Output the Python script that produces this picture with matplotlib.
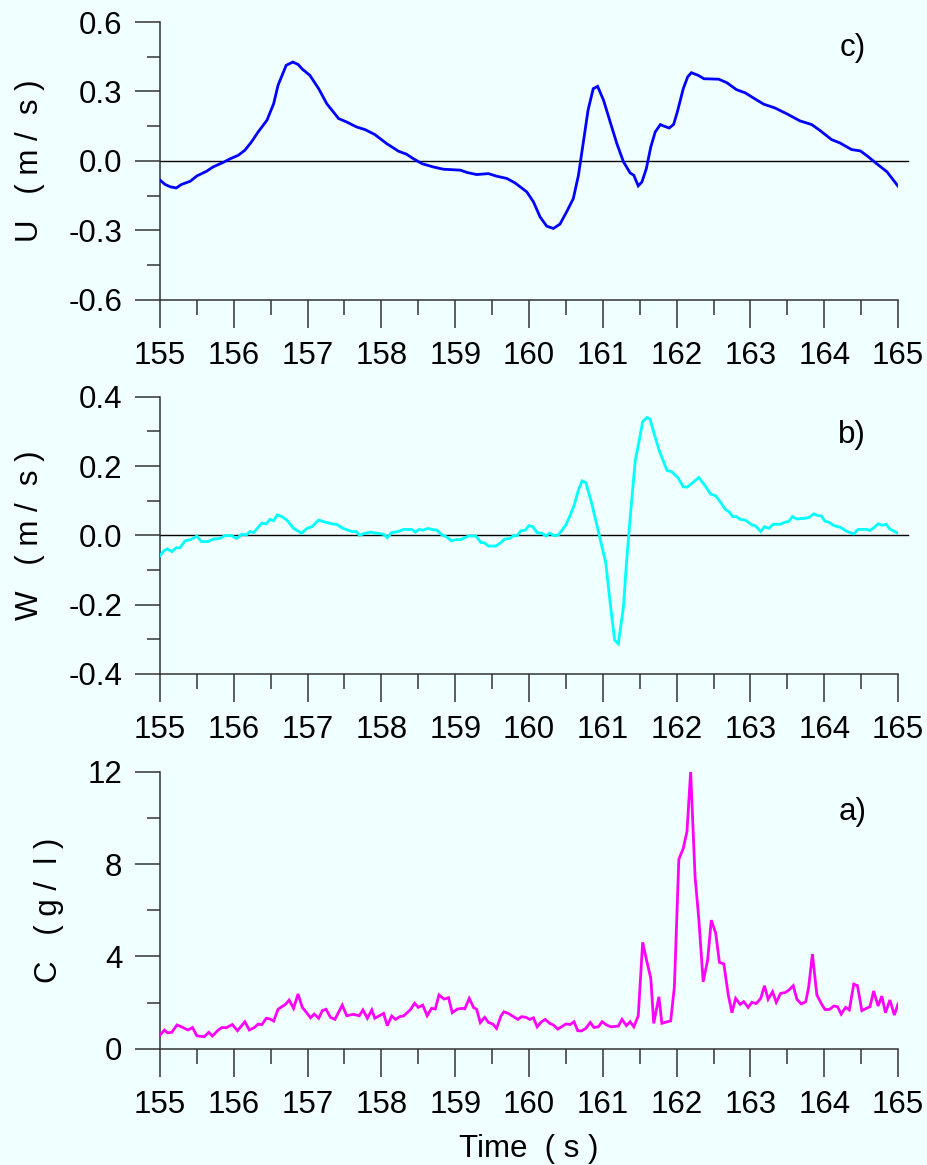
import matplotlib
matplotlib.use("Agg")
import matplotlib.pyplot as plt
from matplotlib.ticker import MultipleLocator, FormatStrFormatter

plt.rcParams['font.family'] = ['Liberation Sans', 'DejaVu Sans']
plt.rcParams['axes.unicode_minus'] = False

# ---------------- data ----------------
u_time = [155.0, 155.07, 155.14, 155.22, 155.29, 155.41, 155.50, 155.63, 155.72, 155.86,
          155.95, 156.06, 156.15, 156.24, 156.33, 156.45, 156.54, 156.60, 156.71, 156.80,
          156.87, 156.93, 157.03, 157.15, 157.26, 157.42, 157.53, 157.66, 157.78, 157.91,
          158.07, 158.23, 158.34, 158.43, 158.55, 158.70, 158.84, 159.07, 159.16, 159.29,
          159.45, 159.56, 159.70, 159.81, 159.97, 160.06, 160.15, 160.24, 160.33, 160.42,
          160.51, 160.60, 160.67, 160.74, 160.80, 160.87, 160.93, 161.01, 161.10, 161.19,
          161.28, 161.37, 161.42, 161.48, 161.53, 161.59, 161.65, 161.71, 161.78, 161.83,
          161.90, 161.96, 162.01, 162.09, 162.15, 162.20, 162.29, 162.37, 162.57, 162.68,
          162.81, 162.93, 163.04, 163.18, 163.33, 163.49, 163.67, 163.83, 163.94, 164.10,
          164.21, 164.37, 164.49, 164.58, 164.71, 164.85, 165.0]
u_vals = [-0.083, -0.102, -0.112, -0.117, -0.102, -0.088, -0.065, -0.045, -0.026, -0.006,
          0.009, 0.024, 0.046, 0.082, 0.125, 0.176, 0.247, 0.327, 0.413, 0.427,
          0.417, 0.396, 0.370, 0.312, 0.247, 0.183, 0.168, 0.147, 0.135, 0.114,
          0.075, 0.042, 0.029, 0.010, -0.012, -0.026, -0.036, -0.040, -0.050, -0.059,
          -0.055, -0.066, -0.076, -0.095, -0.134, -0.177, -0.242, -0.282, -0.292, -0.273,
          -0.220, -0.163, -0.062, 0.089, 0.219, 0.312, 0.322, 0.262, 0.168, 0.075,
          -0.004, -0.052, -0.062, -0.108, -0.091, -0.033, 0.060, 0.125, 0.157, 0.150,
          0.142, 0.158, 0.212, 0.312, 0.363, 0.381, 0.370, 0.355, 0.353, 0.338,
          0.308, 0.294, 0.272, 0.245, 0.229, 0.204, 0.173, 0.157, 0.132, 0.092,
          0.078, 0.049, 0.043, 0.022, -0.012, -0.047, -0.109]

w_time = [155.0, 155.05, 155.10, 155.16, 155.22, 155.27, 155.34, 155.42, 155.50, 155.56,
          155.65, 155.72, 155.81, 155.88, 155.97, 156.04, 156.11, 156.17, 156.22, 156.27,
          156.38, 156.44, 156.49, 156.54, 156.59, 156.65, 156.72, 156.81, 156.92, 156.99,
          157.06, 157.15, 157.24, 157.33, 157.39, 157.48, 157.60, 157.66, 157.70, 157.78,
          157.85, 157.94, 158.03, 158.08, 158.14, 158.23, 158.30, 158.41, 158.46, 158.51,
          158.57, 158.63, 158.68, 158.75, 158.82, 158.88, 158.95, 159.02, 159.07, 159.18,
          159.28, 159.35, 159.39, 159.45, 159.55, 159.62, 159.67, 159.74, 159.79, 159.84,
          159.89, 159.95, 160.00, 160.05, 160.11, 160.17, 160.23, 160.28, 160.34, 160.40,
          160.44, 160.50, 160.56, 160.61, 160.67, 160.72, 160.77, 160.85, 160.94, 161.04,
          161.10, 161.16, 161.21, 161.28, 161.32, 161.38, 161.44, 161.49, 161.54, 161.60,
          161.64, 161.70, 161.77, 161.87, 161.93, 162.02, 162.09, 162.14, 162.22, 162.30,
          162.39, 162.46, 162.53, 162.59, 162.66, 162.71, 162.76, 162.81, 162.86, 162.93,
          163.02, 163.07, 163.14, 163.19, 163.25, 163.31, 163.41, 163.47, 163.52, 163.57,
          163.63, 163.72, 163.79, 163.86, 163.91, 163.96, 164.01, 164.07, 164.13, 164.22,
          164.31, 164.40, 164.46, 164.57, 164.62, 164.68, 164.73, 164.79, 164.84, 164.89,
          165.0]
w_vals = [-0.059, -0.045, -0.039, -0.047, -0.036, -0.036, -0.016, -0.012, -0.002, -0.018,
          -0.018, -0.011, -0.009, -0.001, -0.001, -0.009, 0.003, 0.001, 0.011, 0.008,
          0.035, 0.033, 0.046, 0.042, 0.059, 0.054, 0.044, 0.020, 0.006, 0.020,
          0.025, 0.044, 0.038, 0.033, 0.032, 0.020, 0.011, 0.011, 0.000, 0.006,
          0.009, 0.006, 0.003, -0.007, 0.008, 0.011, 0.017, 0.017, 0.009, 0.017,
          0.015, 0.020, 0.017, 0.015, 0.001, -0.004, -0.016, -0.012, -0.013, -0.002,
          -0.002, -0.021, -0.021, -0.031, -0.031, -0.021, -0.011, -0.009, -0.001, -0.001,
          0.013, 0.015, 0.028, 0.025, 0.008, 0.006, -0.002, 0.006, -0.001, 0.001,
          0.013, 0.030, 0.059, 0.085, 0.131, 0.157, 0.152, 0.092, 0.011, -0.079,
          -0.196, -0.302, -0.313, -0.206, -0.081, 0.073, 0.217, 0.270, 0.328, 0.340,
          0.335, 0.290, 0.241, 0.187, 0.184, 0.166, 0.140, 0.139, 0.152, 0.167,
          0.142, 0.119, 0.114, 0.097, 0.075, 0.068, 0.054, 0.054, 0.046, 0.044,
          0.030, 0.027, 0.011, 0.025, 0.020, 0.032, 0.032, 0.038, 0.040, 0.054,
          0.047, 0.049, 0.051, 0.062, 0.057, 0.056, 0.041, 0.037, 0.028, 0.023,
          0.011, 0.004, 0.017, 0.017, 0.014, 0.023, 0.033, 0.029, 0.032, 0.018,
          0.006]

c_time = [155.0, 155.06, 155.10, 155.16, 155.23, 155.29, 155.38, 155.44, 155.50, 155.60,
          155.66, 155.71, 155.79, 155.84, 155.90, 155.98, 156.05, 156.15, 156.21, 156.28,
          156.33, 156.38, 156.44, 156.49, 156.54, 156.60, 156.65, 156.70, 156.75, 156.81,
          156.87, 156.93, 156.97, 157.04, 157.09, 157.15, 157.20, 157.25, 157.31, 157.37,
          157.47, 157.53, 157.62, 157.70, 157.75, 157.81, 157.87, 157.91, 158.03, 158.08,
          158.14, 158.19, 158.25, 158.30, 158.39, 158.45, 158.50, 158.56, 158.62, 158.68,
          158.73, 158.78, 158.85, 158.91, 158.96, 159.03, 159.10, 159.13, 159.19, 159.25,
          159.29, 159.34, 159.40, 159.45, 159.51, 159.56, 159.62, 159.66, 159.72, 159.79,
          159.85, 159.90, 159.96, 160.01, 160.06, 160.11, 160.17, 160.22, 160.28, 160.33,
          160.39, 160.44, 160.50, 160.56, 160.61, 160.66, 160.71, 160.77, 160.83, 160.88,
          160.94, 160.99, 161.05, 161.11, 161.21, 161.26, 161.32, 161.37, 161.42, 161.48,
          161.54, 161.59, 161.65, 161.69, 161.76, 161.80, 161.92, 161.97, 162.03, 162.09,
          162.14, 162.19, 162.25, 162.30, 162.36, 162.42, 162.47, 162.53, 162.58, 162.64,
          162.70, 162.75, 162.80, 162.86, 162.91, 162.97, 163.02, 163.08, 163.14, 163.19,
          163.24, 163.30, 163.35, 163.41, 163.47, 163.52, 163.58, 163.63, 163.69, 163.75,
          163.79, 163.84, 163.90, 163.96, 164.01, 164.07, 164.13, 164.18, 164.23, 164.29,
          164.34, 164.40, 164.45, 164.51, 164.57, 164.62, 164.67, 164.73, 164.78, 164.83,
          164.89, 164.95, 165.0]
c_vals = [0.59, 0.81, 0.69, 0.71, 1.03, 0.95, 0.81, 0.92, 0.56, 0.52,
          0.71, 0.55, 0.81, 0.92, 0.91, 1.05, 0.78, 1.17, 0.81, 0.92,
          1.07, 1.04, 1.32, 1.29, 1.20, 1.71, 1.82, 1.92, 2.11, 1.75,
          2.37, 1.78, 1.63, 1.34, 1.50, 1.32, 1.65, 1.71, 1.36, 1.27,
          1.89, 1.43, 1.49, 1.43, 1.68, 1.32, 1.68, 1.32, 1.53, 1.00,
          1.42, 1.27, 1.39, 1.42, 1.68, 1.97, 1.79, 1.89, 1.43, 1.75,
          1.72, 2.33, 2.15, 2.21, 1.56, 1.72, 1.75, 1.73, 2.18, 1.78,
          1.71, 1.13, 1.36, 1.14, 1.07, 0.88, 1.42, 1.60, 1.53, 1.39,
          1.27, 1.39, 1.36, 1.27, 1.34, 0.95, 1.17, 1.27, 1.10, 1.03,
          0.85, 0.95, 1.07, 1.05, 1.17, 0.78, 0.77, 0.88, 1.14, 0.92,
          0.95, 1.17, 1.03, 0.95, 0.98, 1.27, 1.00, 1.17, 0.95, 1.42,
          4.61, 3.87, 3.05, 1.10, 2.25, 1.10, 1.21, 2.69, 8.20, 8.68,
          9.40, 12.0, 7.45, 5.65, 2.90, 3.84, 5.57, 5.00, 3.74, 3.67,
          2.33, 1.56, 2.18, 1.92, 2.04, 1.79, 2.01, 1.96, 2.18, 2.73,
          2.14, 2.47, 2.01, 2.40, 2.43, 2.54, 2.73, 2.14, 1.94, 2.04,
          2.69, 4.10, 2.33, 1.96, 1.70, 1.70, 1.85, 1.82, 1.50, 1.79,
          1.68, 2.80, 2.73, 1.65, 1.75, 1.82, 2.50, 1.85, 2.28, 1.56,
          2.11, 1.46, 1.94]

x_ticks = [155, 156, 157, 158, 159, 160, 161, 162, 163, 164, 165]

panels = [
    dict(t=u_time, v=u_vals, color='#0000FF', ylim=(-0.6, 0.6), major=0.3, minor=0.15,
         fmt='%.1f', ylabel='U   ( m /  s )', tag='c)', tagy=0.905, zero=True),
    dict(t=w_time, v=w_vals, color='#00FFFF', ylim=(-0.4, 0.4), major=0.2, minor=0.1,
         fmt='%.1f', ylabel='W   ( m /  s )', tag='b)', tagy=0.862, zero=True),
    dict(t=c_time, v=c_vals, color='#FF00FF', ylim=(0, 12), major=4, minor=2,
         fmt='%d', ylabel='C   ( g /  l )', tag='a)', tagy=0.855, zero=False),
]

bg = '#F0FFFF'
fig = plt.figure(figsize=(9.28, 11.65), dpi=100, facecolor=bg)
rects = [
    [0.1724, 0.7427, 0.7953, 0.2384],
    [0.1724, 0.4215, 0.7953, 0.2380],
    [0.1724, 0.0998, 0.7953, 0.2378],
]
axc = '#333333'
fs = 22.5
for rect, p in zip(rects, panels):
    ax = fig.add_axes(rect)
    ax.set_facecolor(bg)
    ax.plot(p['t'], p['v'], color=p['color'], lw=2.0, solid_joinstyle='miter', zorder=3)
    if p['zero']:
        ax.plot([155, 165.14], [0, 0], color='black', lw=1.0, clip_on=False, zorder=2)
    ax.set_xlim(155, 165)
    ax.set_ylim(*p['ylim'])
    ax.set_xticks(x_ticks)
    ax.xaxis.set_minor_locator(MultipleLocator(0.5))
    ax.yaxis.set_major_locator(MultipleLocator(p['major']))
    ax.yaxis.set_minor_locator(MultipleLocator(p['minor']))
    ax.yaxis.set_major_formatter(FormatStrFormatter(p['fmt']))
    for s in ['top', 'right']:
        ax.spines[s].set_visible(False)
    for s in ['left', 'bottom']:
        ax.spines[s].set_color(axc)
        ax.spines[s].set_linewidth(1.1)
    ax.tick_params(axis='y', which='major', direction='out', length=18, width=1.1,
                   color=axc, labelsize=fs, pad=9)
    ax.tick_params(axis='y', which='minor', direction='out', length=9.5, width=1.1, color=axc)
    ax.tick_params(axis='x', which='major', direction='out', length=20.5, width=1.1,
                   color=axc, labelsize=fs, pad=9)
    ax.tick_params(axis='x', which='minor', direction='out', length=10.5, width=1.1, color=axc)
    ax.set_ylabel(p['ylabel'], fontsize=fs, labelpad=17)
    ax.text(0.938, p['tagy'], p['tag'], transform=ax.transAxes, fontsize=fs,
            ha='center', va='center')

ax.set_xlabel('Time  ( s )', fontsize=fs, labelpad=10)

fig.savefig('out.png', dpi=100, facecolor=bg)
